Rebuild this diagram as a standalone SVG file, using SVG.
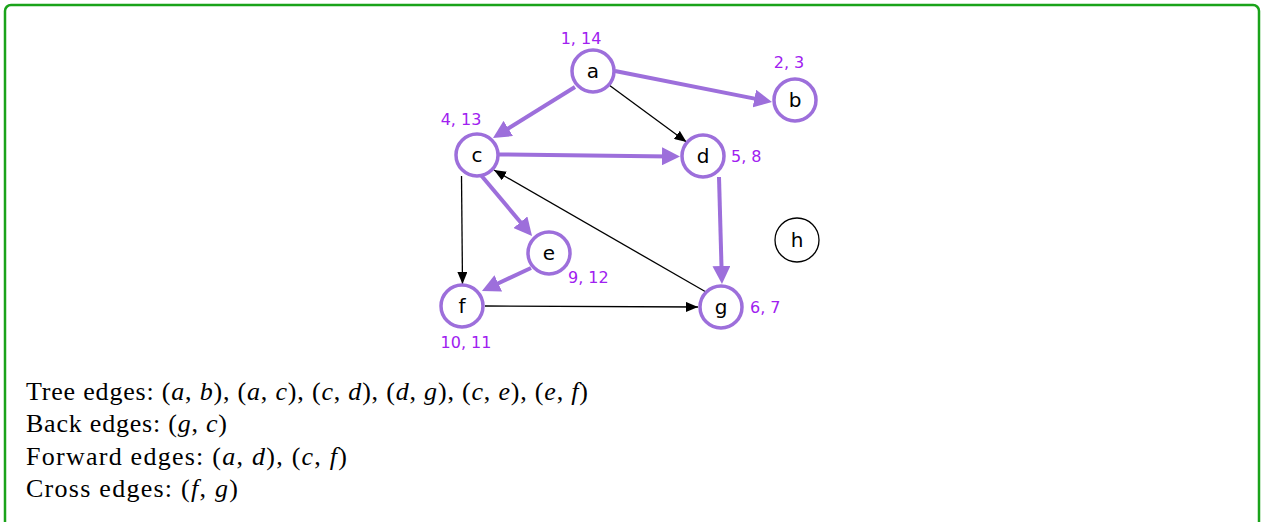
<svg xmlns="http://www.w3.org/2000/svg" width="1261" height="522" viewBox="0 0 1261 522">
<style>
.node{fill:#fff;stroke:#9d6fdb;stroke-width:3.5}
.nodeh{fill:#fff;stroke:#000;stroke-width:1.3}
.nl{font-family:"DejaVu Sans",sans-serif;font-size:20px;fill:#000;text-anchor:middle}
.lab{font-family:"DejaVu Sans",sans-serif;font-size:16px;fill:#a020f0}
.tree{stroke:#9d6fdb;stroke-width:4;fill:none;marker-end:url(#pa)}
.oth{stroke:#000;stroke-width:1.3;fill:none;marker-end:url(#ba)}
.txt{font-family:"Liberation Serif",serif;font-size:26px;fill:#000}
.m{font-style:italic}
</style>
<defs>
<marker id="pa" markerUnits="userSpaceOnUse" markerWidth="18" markerHeight="18" refX="8" refY="9" orient="auto" viewBox="0 0 18 18">
<path d="M0,0 L18,9 L0,18 z" fill="#9d6fdb"/>
</marker>
<marker id="ba" markerUnits="userSpaceOnUse" markerWidth="13" markerHeight="10" refX="12" refY="5" orient="auto" viewBox="0 0 13 10">
<path d="M0,0 L12,5 L0,10 z" fill="#000"/>
</marker>
</defs>
<rect x="5" y="5" width="1254" height="560" rx="6" fill="none" stroke="#1aa31a" stroke-width="2.5"/>
<g id="connectors">
<line class="tree" x1="615" y1="71" x2="762.2" y2="100.1"/>
<line class="tree" x1="575" y1="87" x2="501.5" y2="132.7"/>
<line class="tree" x1="499" y1="154.5" x2="670" y2="156.4"/>
<line class="tree" x1="480" y1="174" x2="525.6" y2="228.3"/>
<line class="tree" x1="719" y1="177" x2="721.7" y2="274"/>
<line class="tree" x1="531" y1="268" x2="491" y2="286.7"/>
<line class="oth" x1="609" y1="85" x2="686.5" y2="142"/>
<line class="oth" x1="461.5" y1="176" x2="462.5" y2="284"/>
<line class="oth" x1="706" y1="292" x2="494" y2="170"/>
<line class="oth" x1="485" y1="306" x2="698" y2="307"/>
</g>
<g id="node-a"><circle class="node" cx="593" cy="71" r="21"/><text class="nl" x="593" y="78">a</text><text class="lab" x="581" y="44" text-anchor="middle">1, 14</text></g>
<g id="node-b"><circle class="node" cx="795" cy="100" r="21"/><text class="nl" x="795" y="107">b</text><text class="lab" x="789" y="68" text-anchor="middle">2, 3</text></g>
<g id="node-c"><circle class="node" cx="477" cy="155" r="21"/><text class="nl" x="477" y="162">c</text><text class="lab" x="461" y="125" text-anchor="middle">4, 13</text></g>
<g id="node-d"><circle class="node" cx="703" cy="156" r="21"/><text class="nl" x="703" y="163">d</text><text class="lab" x="731" y="162">5, 8</text></g>
<g id="node-e"><circle class="node" cx="549" cy="253" r="21"/><text class="nl" x="549" y="260">e</text><text class="lab" x="568" y="283">9, 12</text></g>
<g id="node-f"><circle class="node" cx="462" cy="306" r="21"/><text class="nl" x="462" y="313">f</text><text class="lab" x="466" y="348" text-anchor="middle">10, 11</text></g>
<g id="node-g"><circle class="node" cx="721" cy="307" r="21"/><text class="nl" x="721" y="314">g</text><text class="lab" x="750" y="313">6, 7</text></g>
<g id="node-h"><circle class="nodeh" cx="797" cy="240" r="22"/><text class="nl" x="797" y="247">h</text></g>
<g id="legend">
<text class="txt" x="26" y="400" textLength="562" lengthAdjust="spacing">Tree edges: (<tspan class="m">a</tspan>, <tspan class="m">b</tspan>), (<tspan class="m">a</tspan>, <tspan class="m">c</tspan>), (<tspan class="m">c</tspan>, <tspan class="m">d</tspan>), (<tspan class="m">d</tspan>, <tspan class="m">g</tspan>), (<tspan class="m">c</tspan>, <tspan class="m">e</tspan>), (<tspan class="m">e</tspan>, <tspan class="m">f</tspan>)</text>
<text class="txt" x="26" y="432" textLength="201" lengthAdjust="spacing">Back edges: (<tspan class="m">g</tspan>, <tspan class="m">c</tspan>)</text>
<text class="txt" x="26" y="465" textLength="321" lengthAdjust="spacing">Forward edges: (<tspan class="m">a</tspan>, <tspan class="m">d</tspan>), (<tspan class="m">c</tspan>, <tspan class="m">f</tspan>)</text>
<text class="txt" x="26" y="497" textLength="212" lengthAdjust="spacing">Cross edges: (<tspan class="m">f</tspan>, <tspan class="m">g</tspan>)</text>
</g>
</svg>
